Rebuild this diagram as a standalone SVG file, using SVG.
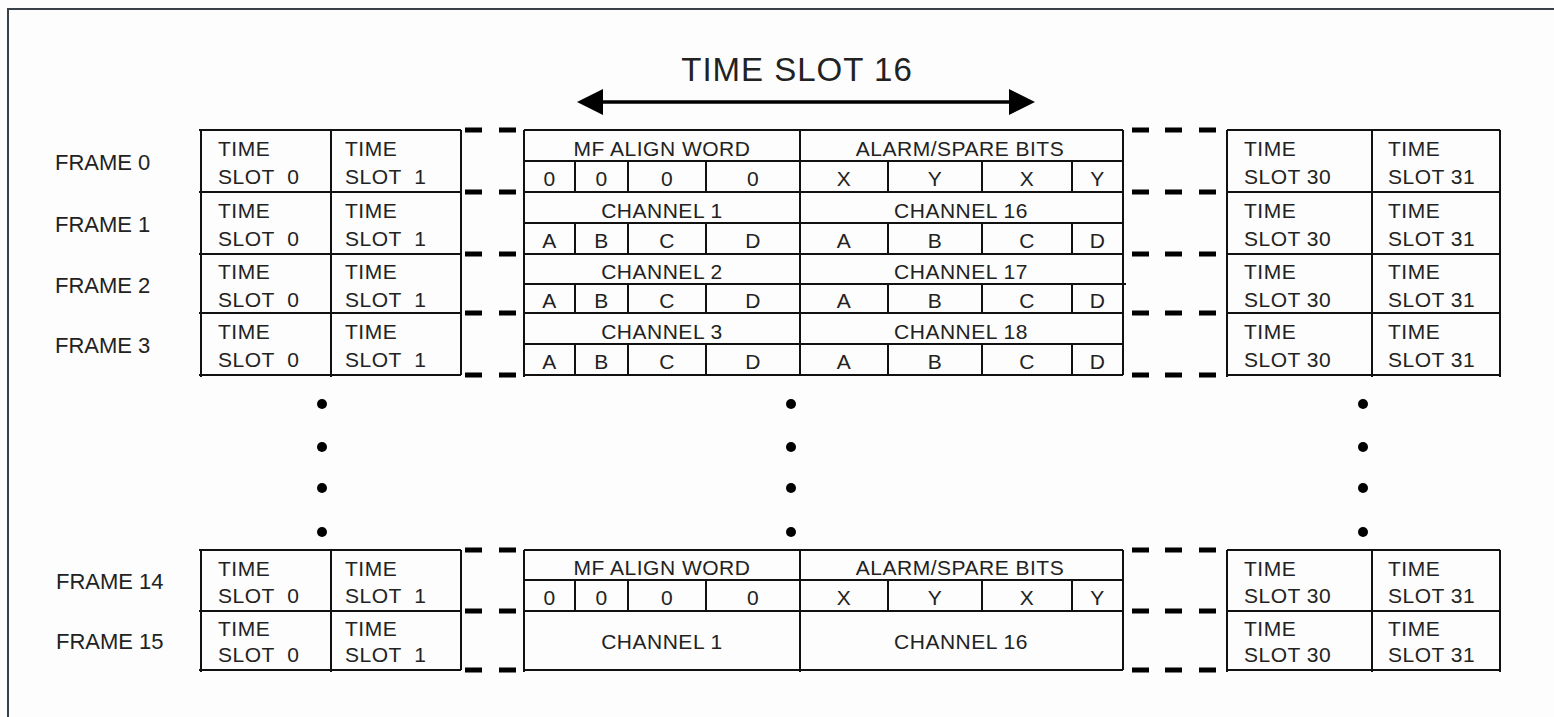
<svg xmlns="http://www.w3.org/2000/svg" width="1554" height="717" viewBox="0 0 1554 717">
<style>
.bg{fill:#fcfdfc}
.frame{fill:none;stroke:#3a4048;stroke-width:2}
.ln{stroke:#111;stroke-width:2;fill:none}
.t{font-family:"Liberation Sans",Arial,sans-serif;font-size:21px;fill:#222;letter-spacing:0.5px;white-space:pre}
.c{text-anchor:middle}
.fl{font-family:"Liberation Sans",Arial,sans-serif;font-size:22px;fill:#222}
.title{font-family:"Liberation Sans",Arial,sans-serif;font-size:33px;fill:#222;text-anchor:middle;letter-spacing:1px}
.dash{fill:#000}
.dot{fill:#000}
</style>
<defs>
<g id="dl"><rect class="dash" x="465" y="-2.5" width="17" height="5"/><rect class="dash" x="499" y="-2.5" width="17" height="5"/></g>
<g id="dr"><rect class="dash" x="1132" y="-2.5" width="17" height="5"/><rect class="dash" x="1165" y="-2.5" width="17" height="5"/><rect class="dash" x="1199" y="-2.5" width="17" height="5"/></g>
</defs>
<rect class="bg" x="0" y="0" width="1554" height="717"/>
<path class="frame" d="M8,717 V9 H1554"/>

<text class="title" x="797" y="81">TIME SLOT 16</text>

<g id="connectors">
<line x1="600" y1="102" x2="1012" y2="102" stroke="#000" stroke-width="3.5"/>
<polygon points="577,102 603,89 603,115" fill="#000"/>
<polygon points="1035,102 1009,89 1009,115" fill="#000"/>
<use href="#dl" y="130"/><use href="#dl" y="192"/><use href="#dl" y="254"/><use href="#dl" y="313"/><use href="#dl" y="375"/>
<use href="#dl" y="550"/><use href="#dl" y="611"/><use href="#dl" y="670"/>
<use href="#dr" y="130"/><use href="#dr" y="192"/><use href="#dr" y="254"/><use href="#dr" y="313"/><use href="#dr" y="375"/>
<use href="#dr" y="550"/><use href="#dr" y="611"/><use href="#dr" y="670"/>
</g>

<g id="grid-top">
<path class="ln" d="M199,130 H461 M199,192 H461 M199,254 H461 M199,313 H461 M199,375 H461 M201,130 V377 M331,130 V377 M461,130 V375"/>
<path class="ln" d="M524,130 H1123 M524,192 H1123 M524,254 H1123 M524,313 H1123 M524,375 H1123 M524,161 H1123 M524,223 H1123 M524,284 H1126 M524,344 H1123 M524,130 V377 M800,130 V375 M1123,130 V375"/>
<path class="ln" d="M575,161 V192 M628,161 V192 M706,161 V192 M888,161 V192 M982,161 V192 M1072,161 V192
M575,223 V254 M628,223 V254 M706,223 V254 M888,223 V254 M982,223 V254 M1072,223 V254
M575,284 V313 M628,284 V313 M706,284 V313 M888,284 V313 M982,284 V313 M1072,284 V313
M575,344 V375 M628,344 V375 M706,344 V375 M888,344 V375 M982,344 V375 M1072,344 V375"/>
<path class="ln" d="M1227,130 H1500 M1227,192 H1500 M1227,254 H1500 M1227,313 H1500 M1227,375 H1500 M1227,130 V377 M1372,130 V377 M1500,130 V377"/>
</g>

<g id="grid-bottom">
<path class="ln" d="M199,550 H461 M199,611 H461 M199,670 H461 M201,550 V672 M331,550 V672 M461,550 V670"/>
<path class="ln" d="M524,550 H1123 M524,580 H1123 M524,611 H1123 M524,670 H1123 M524,550 V672 M800,550 V672 M1123,550 V670
M575,580 V611 M628,580 V611 M706,580 V611 M888,580 V611 M982,580 V611 M1072,580 V611"/>
<path class="ln" d="M1227,550 H1500 M1227,611 H1500 M1227,670 H1500 M1227,550 V672 M1372,550 V672 M1500,550 V672"/>
</g>

<g id="frame0">
<text class="fl" x="55" y="170">FRAME 0</text>
<text class="t" x="218" y="156">TIME</text><text class="t" x="218" y="184">SLOT  0</text>
<text class="t" x="345" y="156">TIME</text><text class="t" x="345" y="184">SLOT  1</text>
<text class="t c" x="662" y="156">MF ALIGN WORD</text>
<text class="t c" x="960" y="156">ALARM/SPARE BITS</text>
<text class="t c" x="549.5" y="186">0</text><text class="t c" x="601.5" y="186">0</text><text class="t c" x="667" y="186">0</text><text class="t c" x="753" y="186">0</text>
<text class="t c" x="844" y="186">X</text><text class="t c" x="935" y="186">Y</text><text class="t c" x="1027" y="186">X</text><text class="t c" x="1097.5" y="186">Y</text>
<text class="t" x="1244" y="156">TIME</text><text class="t" x="1244" y="184">SLOT 30</text>
<text class="t" x="1388" y="156">TIME</text><text class="t" x="1388" y="184">SLOT 31</text>
</g>

<g id="frame1">
<text class="fl" x="55" y="232">FRAME 1</text>
<text class="t" x="218" y="218">TIME</text><text class="t" x="218" y="246">SLOT  0</text>
<text class="t" x="345" y="218">TIME</text><text class="t" x="345" y="246">SLOT  1</text>
<text class="t c" x="662" y="218">CHANNEL 1</text>
<text class="t c" x="961" y="218">CHANNEL 16</text>
<text class="t c" x="549.5" y="248">A</text><text class="t c" x="601.5" y="248">B</text><text class="t c" x="667" y="248">C</text><text class="t c" x="753" y="248">D</text>
<text class="t c" x="844" y="248">A</text><text class="t c" x="935" y="248">B</text><text class="t c" x="1027" y="248">C</text><text class="t c" x="1097.5" y="248">D</text>
<text class="t" x="1244" y="218">TIME</text><text class="t" x="1244" y="246">SLOT 30</text>
<text class="t" x="1388" y="218">TIME</text><text class="t" x="1388" y="246">SLOT 31</text>
</g>

<g id="frame2">
<text class="fl" x="55" y="293">FRAME 2</text>
<text class="t" x="218" y="279">TIME</text><text class="t" x="218" y="307">SLOT  0</text>
<text class="t" x="345" y="279">TIME</text><text class="t" x="345" y="307">SLOT  1</text>
<text class="t c" x="662" y="279">CHANNEL 2</text>
<text class="t c" x="961" y="279">CHANNEL 17</text>
<text class="t c" x="549.5" y="308">A</text><text class="t c" x="601.5" y="308">B</text><text class="t c" x="667" y="308">C</text><text class="t c" x="753" y="308">D</text>
<text class="t c" x="844" y="308">A</text><text class="t c" x="935" y="308">B</text><text class="t c" x="1027" y="308">C</text><text class="t c" x="1097.5" y="308">D</text>
<text class="t" x="1244" y="279">TIME</text><text class="t" x="1244" y="307">SLOT 30</text>
<text class="t" x="1388" y="279">TIME</text><text class="t" x="1388" y="307">SLOT 31</text>
</g>

<g id="frame3">
<text class="fl" x="55" y="353">FRAME 3</text>
<text class="t" x="218" y="339">TIME</text><text class="t" x="218" y="367">SLOT  0</text>
<text class="t" x="345" y="339">TIME</text><text class="t" x="345" y="367">SLOT  1</text>
<text class="t c" x="662" y="339">CHANNEL 3</text>
<text class="t c" x="961" y="339">CHANNEL 18</text>
<text class="t c" x="549.5" y="369">A</text><text class="t c" x="601.5" y="369">B</text><text class="t c" x="667" y="369">C</text><text class="t c" x="753" y="369">D</text>
<text class="t c" x="844" y="369">A</text><text class="t c" x="935" y="369">B</text><text class="t c" x="1027" y="369">C</text><text class="t c" x="1097.5" y="369">D</text>
<text class="t" x="1244" y="339">TIME</text><text class="t" x="1244" y="367">SLOT 30</text>
<text class="t" x="1388" y="339">TIME</text><text class="t" x="1388" y="367">SLOT 31</text>
</g>

<g id="ellipsis">
<circle class="dot" cx="322" cy="404" r="5"/><circle class="dot" cx="322" cy="447" r="5"/><circle class="dot" cx="322" cy="488" r="5"/><circle class="dot" cx="322" cy="532" r="5"/>
<circle class="dot" cx="791" cy="404" r="5"/><circle class="dot" cx="791" cy="447" r="5"/><circle class="dot" cx="791" cy="488" r="5"/><circle class="dot" cx="791" cy="532" r="5"/>
<circle class="dot" cx="1363" cy="404" r="5"/><circle class="dot" cx="1363" cy="447" r="5"/><circle class="dot" cx="1363" cy="488" r="5"/><circle class="dot" cx="1363" cy="532" r="5"/>
</g>

<g id="frame14">
<text class="fl" x="56" y="589">FRAME 14</text>
<text class="t" x="218" y="576">TIME</text><text class="t" x="218" y="603">SLOT  0</text>
<text class="t" x="345" y="576">TIME</text><text class="t" x="345" y="603">SLOT  1</text>
<text class="t c" x="662" y="575">MF ALIGN WORD</text>
<text class="t c" x="960" y="575">ALARM/SPARE BITS</text>
<text class="t c" x="549.5" y="605">0</text><text class="t c" x="601.5" y="605">0</text><text class="t c" x="667" y="605">0</text><text class="t c" x="753" y="605">0</text>
<text class="t c" x="844" y="605">X</text><text class="t c" x="935" y="605">Y</text><text class="t c" x="1027" y="605">X</text><text class="t c" x="1097.5" y="605">Y</text>
<text class="t" x="1244" y="576">TIME</text><text class="t" x="1244" y="603">SLOT 30</text>
<text class="t" x="1388" y="576">TIME</text><text class="t" x="1388" y="603">SLOT 31</text>
</g>

<g id="frame15">
<text class="fl" x="56" y="649">FRAME 15</text>
<text class="t" x="218" y="636">TIME</text><text class="t" x="218" y="662">SLOT  0</text>
<text class="t" x="345" y="636">TIME</text><text class="t" x="345" y="662">SLOT  1</text>
<text class="t c" x="662" y="649">CHANNEL 1</text>
<text class="t c" x="961" y="649">CHANNEL 16</text>
<text class="t" x="1244" y="636">TIME</text><text class="t" x="1244" y="662">SLOT 30</text>
<text class="t" x="1388" y="636">TIME</text><text class="t" x="1388" y="662">SLOT 31</text>
</g>
</svg>
